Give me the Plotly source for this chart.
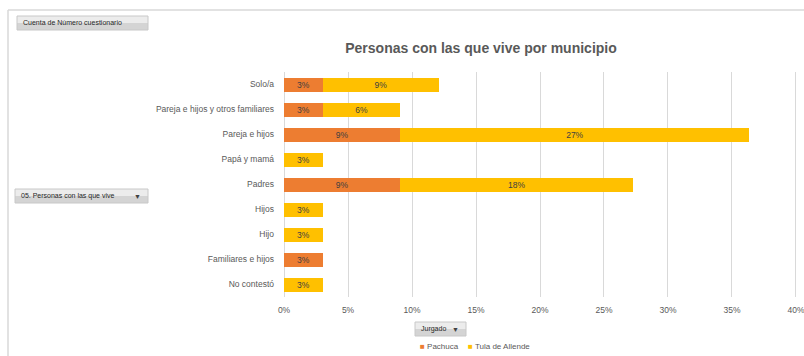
import plotly.graph_objects as go

# Household composition by municipality (share of questionnaires, %)
categorias = [
    "Solo/a",
    "Pareja e hijos y otros familiares",
    "Pareja e hijos",
    "Papá y mamá",
    "Padres",
    "Hijos",
    "Hijo",
    "Familiares e hijos",
    "No contestó",
]
pachuca = [3.03, 3.03, 9.09, None, 9.09, None, None, 3.03, None]
tula_de_allende = [9.09, 6.06, 27.27, 3.03, 18.18, 3.03, 3.03, None, 3.03]
x_ticks = [0, 5, 10, 15, 20, 25, 30, 35, 40]

series = [
    ("Pachuca", pachuca, "#ED7D31"),
    ("Tula de Allende", tula_de_allende, "#FFC000"),
]

FONT = "Liberation Sans"
GRAY_TXT = "#595959"

fig = go.Figure()
for name, vals, color in series:
    fig.add_trace(go.Bar(
        name=name,
        y=categorias,
        x=vals,
        orientation="h",
        marker=dict(color=color, line=dict(width=0)),
        texttemplate="%{x:.0f}%",
        textposition="inside",
        insidetextanchor="middle",
        textfont=dict(family=FONT, size=8.5, color="#404040"),
        constraintext="none",
        hoverinfo="skip",
    ))

fig.update_layout(
    barmode="stack",
    bargap=0.44,
    width=804,
    height=356,
    margin=dict(l=283, r=7, t=72, b=59, autoexpand=False),
    paper_bgcolor="white",
    plot_bgcolor="white",
    font=dict(family=FONT, color=GRAY_TXT),
    showlegend=False,
    title=dict(
        text="<b>Personas con las que vive por municipio</b>",
        x=(481 / 804), xanchor="center",
        y=1 - 48 / 356, yanchor="middle",
        font=dict(family=FONT, size=14, color=GRAY_TXT),
    ),
    xaxis=dict(
        range=[-0.08, 40.08],
        tickvals=x_ticks,
        ticktext=[f"{v}%" for v in x_ticks],
        showgrid=True,
        gridcolor="#d9d9d9",
        gridwidth=1,
        zeroline=False,
        showline=False,
        ticks="",
        tickfont=dict(family=FONT, size=8.5, color=GRAY_TXT),
        ticklabelstandoff=6,
        ticklabeloverflow="allow",
        fixedrange=True,
    ),
    yaxis=dict(
        categoryorder="array",
        categoryarray=categorias[::-1],
        showgrid=False,
        zeroline=False,
        showline=False,
        ticks="",
        tickfont=dict(family=FONT, size=8.5, color=GRAY_TXT),
        ticklabelstandoff=8,
        fixedrange=True,
    ),
)

PLOT_W = 804 - 283 - 7


def px_x(px):
    return (px - 283) / PLOT_W


def px_y(py):
    return (297 - py) / 225


# Chart frame (top and left edges)
fig.add_shape(type="line", xref="paper", yref="paper",
              x0=px_x(8), x1=px_x(804), y0=px_y(10), y1=px_y(10),
              line=dict(color="#d9d9d9", width=1.5))
fig.add_shape(type="line", xref="paper", yref="paper",
              x0=px_x(8), x1=px_x(8), y0=px_y(10), y1=px_y(356),
              line=dict(color="#d9d9d9", width=1.5))


def field_button(x0, x1, y0, y1, label, arrow=False):
    # two-tone fill gives the pivot field buttons their shaded look
    ym = (y0 + y1) / 2
    fig.add_shape(type="rect", xref="paper", yref="paper",
                  x0=px_x(x0), x1=px_x(x1), y0=px_y(y0), y1=px_y(ym),
                  fillcolor="#ececec", line=dict(width=0), layer="above")
    fig.add_shape(type="rect", xref="paper", yref="paper",
                  x0=px_x(x0), x1=px_x(x1), y0=px_y(ym), y1=px_y(y1),
                  fillcolor="#d4d4d4", line=dict(width=0), layer="above")
    fig.add_shape(type="rect", xref="paper", yref="paper",
                  x0=px_x(x0), x1=px_x(x1), y0=px_y(y0), y1=px_y(y1),
                  fillcolor="rgba(0,0,0,0)", line=dict(color="#c8c8c8", width=1),
                  layer="above")
    fig.add_annotation(xref="paper", yref="paper", x=px_x(x0 + 4), y=px_y(ym),
                       text=label, showarrow=False, xanchor="left", yanchor="middle",
                       font=dict(family=FONT, size=7, color="#262626"))
    if arrow:
        fig.add_annotation(xref="paper", yref="paper", x=px_x(x1 - 5), y=px_y(ym),
                           text="▼", showarrow=False, xanchor="right", yanchor="middle",
                           font=dict(family=FONT, size=7, color="#404040"))


field_button(17, 148, 16, 30, "Cuenta de Número cuestionario")
field_button(15, 148, 189, 203, "05. Personas con las que vive", arrow=True)
field_button(415, 466, 322, 336, "Jurgado", arrow=True)

# Legend with small square keys
legend_x = [418, 466]
for (name, _, color), lx in zip(series, legend_x):
    fig.add_annotation(
        xref="paper", yref="paper", x=px_x(lx), y=px_y(346),
        text=f"<span style='color:{color}'>■</span> {name}",
        showarrow=False, xanchor="left", yanchor="middle",
        font=dict(family=FONT, size=8, color=GRAY_TXT),
    )

fig.write_html("out.html")
